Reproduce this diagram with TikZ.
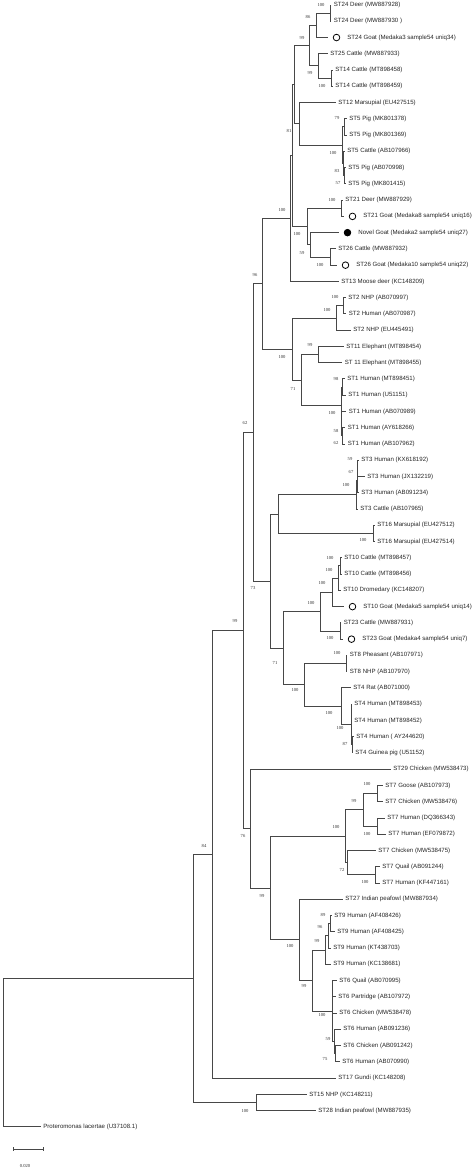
\documentclass[tikz,border=0pt]{standalone}
\usepackage{fontspec}
\newfontfamily\labfont{Liberation Sans}
\newfontfamily\bsfont{Liberation Serif}
\newcommand\labf{\labfont\fontsize{3.05pt}{3.6pt}\selectfont}
\newcommand\bsf{\bsfont\fontsize{2.3pt}{2.7pt}\selectfont}
\tikzset{
  br/.style={draw=black!72, line width=0.5pt},
  lab/.style={anchor=west, inner sep=0pt, font=\labf, text=black!85},
  bs/.style={inner sep=0pt, font=\bsf, text=black!80},
  ocirc/.style={circle, draw=black, line width=0.4pt, minimum size=3.3pt, inner sep=0pt},
  fcirc/.style={circle, fill=black, draw=black, line width=0.4pt, minimum size=3.3pt, inner sep=0pt},
}
\newcommand\lf[4]{\coordinate (t#1) at (#2,#3); \node[lab] (l#1) at ([xshift=1.25pt]t#1) {#4};}
\newcommand\mlf[5]{\coordinate (t#1) at (#2,#3); \node[#4] (m#1) at ([xshift=4.25pt]t#1) {}; \node[lab] (l#1) at ([xshift=9.5pt]t#1) {#5};}
\begin{document}
\begin{tikzpicture}[x=0.5pt,y=-0.5pt]
\useasboundingbox[fill=white] (0,0) rectangle (474,1169);
% internal nodes
\coordinate (nA) at (330,13.13);
\coordinate (nB) at (316,25.33);
\coordinate (nK) at (331,78.17);
\coordinate (nC) at (318,65.98);
\coordinate (nD) at (309,45.65);
\coordinate (nSb) at (344,126.95);
\coordinate (nSc) at (344,175.73);
\coordinate (nSd) at (343,163.54);
\coordinate (nS5) at (342,145.24);
\coordinate (nF) at (299,123.90);
\coordinate (nE) at (294,84.78);
\coordinate (nJ) at (341,208.25);
\coordinate (nL) at (330,257.03);
\coordinate (nI) at (310,244.84);
\coordinate (nH) at (307,226.54);
\coordinate (nGb) at (292,155.66);
\coordinate (nG) at (290.5,218.54);
\coordinate (nP) at (343,305.81);
\coordinate (nO) at (336,318.01);
\coordinate (nR) at (318,354.59);
\coordinate (nSa1) at (342,387.11);
\coordinate (nSa2) at (342,435.89);
\coordinate (nSa3) at (341.5,423.70);
\coordinate (nSa) at (341,405.40);
\coordinate (nQ) at (301,380.00);
\coordinate (nN) at (292,349.00);
\coordinate (nM) at (262,283.77);
\coordinate (n3a) at (357.5,468.41);
\coordinate (n3b) at (357,480.61);
\coordinate (n3) at (356,494.83);
\coordinate (n16) at (373,533.45);
\coordinate (nV) at (278,514.14);
\coordinate (n10a) at (340,565.97);
\coordinate (n10b) at (338,578.17);
\coordinate (n10c) at (332,592.39);
\coordinate (n23) at (340,631.01);
\coordinate (n10d) at (320,611.70);
\coordinate (n8) at (346,663.53);
\coordinate (n4c) at (352,744.83);
\coordinate (n4b) at (351,724.51);
\coordinate (n4) at (341,706.21);
\coordinate (nY) at (304,684.87);
\coordinate (nX) at (283,648.29);
\coordinate (nZ) at (270,581.21);
\coordinate (nU) at (253,432.49);
\coordinate (n7g) at (377,793.61);
\coordinate (n7h) at (377,826.13);
\coordinate (n7a) at (363,809.87);
\coordinate (n7q) at (375,874.91);
\coordinate (n7b) at (347,862.72);
\coordinate (n7) at (345,836.29);
\coordinate (n9c) at (330,923.69);
\coordinate (n9b) at (328,935.89);
\coordinate (n9) at (325,950.11);
\coordinate (n6c) at (335,1053.77);
\coordinate (n6b) at (334,1041.58);
\coordinate (n6) at (332,1011.09);
\coordinate (nAE) at (312,980.60);
\coordinate (nAD) at (299,939.95);
\coordinate (nAB) at (270,888.12);
\coordinate (nAA) at (250,828.67);
\coordinate (nT) at (243,630.58);
\coordinate (nAL) at (212,854.37);
\coordinate (nAN) at (256,1102.55);
\coordinate (nAM) at (193,978.46);
\coordinate (nR0) at (3,1052.70);
% leaves
\lf{1}{331}{5.00}{ST24 Deer (MW887928)}
\lf{2}{331}{21.26}{ST24 Deer (MW887930 )}
\mlf{3}{328}{37.52}{ocirc}{ST24 Goat (Medaka3 sample54 uniq34)}
\lf{4}{327.5}{53.78}{ST25 Cattle (MW887933)}
\lf{5}{332.5}{70.04}{ST14 Cattle (MT898458)}
\lf{6}{332.5}{86.30}{ST14 Cattle (MT898459)}
\lf{7}{335.5}{102.56}{ST12 Marsupial (EU427515)}
\lf{8}{346.5}{118.82}{ST5 Pig (MK801378)}
\lf{9}{346.5}{135.08}{ST5 Pig (MK801369)}
\lf{10}{344.5}{151.34}{ST5 Cattle (AB107966)}
\lf{11}{345.5}{167.60}{ST5 Pig (AB070998)}
\lf{12}{345.5}{183.86}{ST5 Pig (MK801415)}
\lf{13}{342.5}{200.12}{ST21 Deer (MW887929)}
\mlf{14}{344}{216.38}{ocirc}{ST21 Goat (Medaka8 sample54 uniq16)}
\mlf{15}{339}{232.64}{fcirc}{Novel Goat (Medaka2 sample54 uniq27)}
\lf{16}{335.5}{248.90}{ST26 Cattle (MW887932)}
\mlf{17}{337}{265.16}{ocirc}{ST26 Goat (Medaka10 sample54 uniq22)}
\lf{18}{338.5}{281.42}{ST13 Moose deer (KC148209)}
\lf{19}{345.5}{297.68}{ST2 NHP (AB070997)}
\lf{20}{346}{313.94}{ST2 Human (AB070987)}
\lf{21}{350.5}{330.20}{ST2 NHP (EU445491)}
\lf{22}{343.5}{346.46}{ST11 Elephant (MT898454)}
\lf{23}{342}{362.72}{ST 11 Elephant (MT898455)}
\lf{24}{344.5}{378.98}{ST1 Human (MT898451)}
\lf{25}{345.5}{395.24}{ST1 Human (U51151)}
\lf{26}{346}{411.50}{ST1 Human (AB070989)}
\lf{27}{345}{427.76}{ST1 Human (AY618266)}
\lf{28}{345}{444.02}{ST1 Human (AB107962)}
\lf{29}{358.5}{460.28}{ST3 Human (KX618192)}
\lf{30}{364.5}{476.54}{ST3 Human (JX132219)}
\lf{31}{358.5}{492.80}{ST3 Human (AB091234)}
\lf{32}{357.5}{509.06}{ST3 Cattle (AB107965)}
\lf{33}{374.5}{525.32}{ST16 Marsupial (EU427512)}
\lf{34}{374.5}{541.58}{ST16 Marsupial (EU427514)}
\lf{35}{341.5}{557.84}{ST10 Cattle (MT898457)}
\lf{36}{341.5}{574.10}{ST10 Cattle (MT898456)}
\lf{37}{340.5}{590.36}{ST10 Dromedary (KC148207)}
\mlf{38}{344}{606.62}{ocirc}{ST10 Goat (Medaka5 sample54 uniq14)}
\lf{39}{341}{622.88}{ST23 Cattle (MW887931)}
\mlf{40}{343}{639.14}{ocirc}{ST23 Goat (Medaka4 sample54 uniq7)}
\lf{41}{347}{655.40}{ST8 Pheasant (AB107971)}
\lf{42}{347}{671.66}{ST8 NHP (AB107970)}
\lf{43}{350.5}{687.92}{ST4 Rat (AB071000)}
\lf{44}{351.5}{704.18}{ST4 Human (MT898453)}
\lf{45}{351.5}{720.44}{ST4 Human (MT898452)}
\lf{46}{353.5}{736.70}{ST4 Human ( AY244620)}
\lf{47}{352.5}{752.96}{ST4 Guinea pig (U51152)}
\lf{48}{390.5}{769.22}{ST29 Chicken (MW538473)}
\lf{49}{382.5}{785.48}{ST7 Goose (AB107973)}
\lf{50}{382.5}{801.74}{ST7 Chicken (MW538476)}
\lf{51}{384.5}{818.00}{ST7 Human (DQ366343)}
\lf{52}{385.5}{834.26}{ST7 Human (EF079872)}
\lf{53}{375.5}{850.52}{ST7 Chicken (MW538475)}
\lf{54}{379.5}{866.78}{ST7 Quail (AB091244)}
\lf{55}{379.5}{883.04}{ST7 Human (KF447161)}
\lf{56}{342.5}{899.30}{ST27 Indian peafowl (MW887934)}
\lf{57}{331.5}{915.56}{ST9 Human (AF408426)}
\lf{58}{334.5}{931.82}{ST9 Human (AF408425)}
\lf{59}{330.5}{948.08}{ST9 Human (KT438703)}
\lf{60}{330.5}{964.34}{ST9 Human (KC138681)}
\lf{61}{336.5}{980.60}{ST6 Quail (AB070995)}
\lf{62}{335.5}{996.86}{ST6 Partridge (AB107972)}
\lf{63}{336.5}{1013.12}{ST6 Chicken (MW538478)}
\lf{64}{340.5}{1029.38}{ST6 Human (AB091236)}
\lf{65}{340.5}{1045.64}{ST6 Chicken (AB091242)}
\lf{66}{339.5}{1061.90}{ST6 Human (AB070990)}
\lf{67}{335.5}{1078.16}{ST17 Gundi (KC148208)}
\lf{68}{306.5}{1094.42}{ST15 NHP (KC148211)}
\lf{69}{315.5}{1110.68}{ST28 Indian peafowl (MW887935)}
\lf{70}{40.5}{1126.94}{Proteromonas lacertae (U37108.1)}
% branches
\foreach \p/\c in {nA/t1,nA/t2,nB/nA,nB/t3,nK/t5,nK/t6,nC/t4,nC/nK,nD/nB,nD/nC,
  nSb/t8,nSb/t9,nSc/t11,nSc/t12,nSd/t10,nSd/nSc,nS5/nSb,nS5/nSd,nF/t7,nF/nS5,nE/nD,nE/nF,
  nJ/t13,nJ/t14,nL/t16,nL/t17,nI/t15,nI/nL,nH/nJ,nH/nI,nGb/nE,nGb/nH,nG/nGb,nG/t18,
  nP/t19,nP/t20,nO/nP,nO/t21,nR/t22,nR/t23,nSa1/t24,nSa1/t25,nSa2/t27,nSa2/t28,nSa3/t26,nSa3/nSa2,
  nSa/nSa1,nSa/nSa3,nQ/nR,nQ/nSa,nN/nO,nN/nQ,nM/nG,nM/nN,
  n3a/t29,n3a/t30,n3b/n3a,n3b/t31,n3/n3b,n3/t32,n16/t33,n16/t34,nV/n3,nV/n16,
  n10a/t35,n10a/t36,n10b/n10a,n10b/t37,n10c/n10b,n10c/t38,n23/t39,n23/t40,n10d/n10c,n10d/n23,
  n8/t41,n8/t42,n4c/t46,n4c/t47,n4b/t44,n4b/t45,n4b/n4c,n4/t43,n4/n4b,nY/n8,nY/n4,nX/n10d,nX/nY,
  nZ/nV,nZ/nX,nU/nM,nU/nZ,
  n7g/t49,n7g/t50,n7h/t51,n7h/t52,n7a/n7g,n7a/n7h,n7q/t54,n7q/t55,n7b/t53,n7b/n7q,n7/n7a,n7/n7b,
  n9c/t57,n9c/t58,n9b/n9c,n9b/t59,n9/n9b,n9/t60,n6c/t65,n6c/t66,n6b/t64,n6b/n6c,
  n6/t61,n6/t62,n6/t63,n6/n6b,nAE/n9,nAE/n6,nAD/t56,nAD/nAE,nAB/n7,nAB/nAD,nAA/t48,nAA/nAB,
  nT/nU,nT/nAA,nAL/nT,nAL/t67,nAN/t68,nAN/t69,nAM/nAL,nAM/nAN,nR0/nAM,nR0/t70}
  \draw[br] (\p) |- (\c);
% bootstrap values
\node[bs] (bA) at (321,5) {100};
\node[bs] (bB) at (308,17) {86};
\node[bs] (bD) at (302,38) {99};
\node[bs] (bC) at (310,73) {99};
\node[bs] (bK) at (322,86) {100};
\node[bs] (bE) at (289,131) {81};
\node[bs] (bSb) at (337,118) {79};
\node[bs] (bS5) at (333,153) {100};
\node[bs] (bSd) at (337,171) {83};
\node[bs] (bSc) at (338,183) {57};
\node[bs] (bJ) at (332,200) {100};
\node[bs] (bH) at (297,234) {100};
\node[bs] (bI) at (302,253) {59};
\node[bs] (bL) at (320,265) {100};
\node[bs] (bG) at (282,210) {100};
\node[bs] (bM) at (255,275) {96};
\node[bs] (bP) at (335,297) {100};
\node[bs] (bO) at (327,310) {100};
\node[bs] (bN) at (282,357) {100};
\node[bs] (bR) at (310,345) {99};
\node[bs] (bQ) at (293,389) {71};
\node[bs] (bSa1) at (336,379) {98};
\node[bs] (bSa) at (332,413) {100};
\node[bs] (bSa3) at (336,431) {58};
\node[bs] (bSa2) at (336,443) {62};
\node[bs] (bU) at (245,423) {62};
\node[bs] (b3a) at (350,459) {59};
\node[bs] (b3b) at (351,472) {67};
\node[bs] (b3) at (346,485) {100};
\node[bs] (b16) at (363,540) {100};
\node[bs] (bZ) at (253,588) {73};
\node[bs] (b10a) at (330,558) {100};
\node[bs] (b10b) at (329,570) {100};
\node[bs] (b10c) at (322,583) {100};
\node[bs] (b10d) at (311,603) {100};
\node[bs] (b23) at (330,638) {100};
\node[bs] (bX) at (275,663) {71};
\node[bs] (b8) at (337,653) {100};
\node[bs] (bY) at (295,690) {100};
\node[bs] (b4) at (329,713) {100};
\node[bs] (b4b) at (340,728) {100};
\node[bs] (b4c) at (345,744) {87};
\node[bs] (bT) at (235,621) {99};
\node[bs] (bAA) at (243,836) {76};
\node[bs] (bAB) at (262,896) {99};
\node[bs] (b7) at (336,827) {100};
\node[bs] (b7a) at (354,801) {99};
\node[bs] (b7g) at (367,784) {100};
\node[bs] (b7h) at (367,834) {100};
\node[bs] (b7b) at (342,870) {72};
\node[bs] (b7q) at (365,882) {100};
\node[bs] (bAD) at (290,946) {100};
\node[bs] (bAE) at (304,986) {99};
\node[bs] (b9) at (317,941) {99};
\node[bs] (b9b) at (320,927) {96};
\node[bs] (b9c) at (323,915) {89};
\node[bs] (b6) at (322,1015) {100};
\node[bs] (b6b) at (328,1039) {59};
\node[bs] (b6c) at (325,1059) {75};
\node[bs] (bAL) at (204,846) {84};
\node[bs] (bAN) at (245,1111) {100};
% scale bar
\coordinate (sb1) at (13,1149);
\coordinate (sb2) at (43,1149);
\draw[br] (sb1) -- (sb2);
\draw[br] ([yshift=1pt]sb1) -- ([yshift=-1pt]sb1);
\draw[br] ([yshift=1pt]sb2) -- ([yshift=-1pt]sb2);
\node[bs] (sbl) at (25,1166) {0.020};
\end{tikzpicture}
\end{document}
